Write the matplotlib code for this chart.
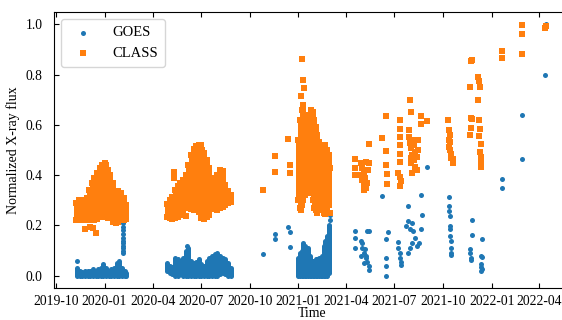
import matplotlib
matplotlib.use('Agg')
import matplotlib.pyplot as plt
import matplotlib.dates as mdates
import pandas as pd

plt.rcParams['font.family'] = ['Liberation Serif', 'DejaVu Serif']
plt.rcParams['font.size'] = 10

BLUE = '#1f77b4'
ORANGE = '#ff7f0e'

band1_class_dates = ['2019-11-08', '2019-11-13', '2019-11-18', '2019-11-23', '2019-11-28',
                     '2019-12-03', '2019-12-08', '2019-12-13', '2019-12-18', '2019-12-23',
                     '2019-12-28', '2020-01-02', '2020-01-07', '2020-01-12', '2020-01-17',
                     '2020-01-22', '2020-01-27', '2020-02-01', '2020-02-06', '2020-02-10']
band1_class_lo = [0.22, 0.22, 0.22, 0.22, 0.225, 0.22, 0.22, 0.22, 0.225, 0.235,
                  0.24, 0.235, 0.23, 0.23, 0.215, 0.21, 0.215, 0.22, 0.22, 0.225]
band1_class_hi = [0.29, 0.30, 0.29, 0.30, 0.31, 0.34, 0.37, 0.39, 0.41, 0.43,
                  0.44, 0.445, 0.42, 0.40, 0.37, 0.335, 0.335, 0.33, 0.31, 0.28]

band1_goes_dates = ['2019-11-10', '2019-11-15', '2019-11-20', '2019-11-25', '2019-11-30',
                    '2019-12-05', '2019-12-10', '2019-12-15', '2019-12-20', '2019-12-25',
                    '2019-12-30', '2020-01-04', '2020-01-09', '2020-01-14', '2020-01-19',
                    '2020-01-24', '2020-01-29', '2020-02-03', '2020-02-08', '2020-02-10']
band1_goes_lo = [0.0] * 20
band1_goes_hi = [0.03, 0.02, 0.015, 0.02, 0.02, 0.02, 0.025, 0.02, 0.025, 0.03,
                 0.045, 0.03, 0.02, 0.025, 0.03, 0.05, 0.06, 0.03, 0.02, 0.01]

band2_dates = ['2020-04-28', '2020-05-03', '2020-05-08', '2020-05-13', '2020-05-18',
               '2020-05-23', '2020-05-28', '2020-06-02', '2020-06-07', '2020-06-12',
               '2020-06-17', '2020-06-22', '2020-06-27', '2020-07-02', '2020-07-07',
               '2020-07-12', '2020-07-17', '2020-07-22', '2020-07-27', '2020-08-01',
               '2020-08-06', '2020-08-11', '2020-08-16', '2020-08-21', '2020-08-26']
band2_class_lo = [0.235, 0.23, 0.225, 0.23, 0.235, 0.24, 0.25, 0.27, 0.27, 0.265,
                  0.26, 0.265, 0.255, 0.23, 0.225, 0.235, 0.24, 0.27, 0.265, 0.26,
                  0.27, 0.275, 0.28, 0.29, 0.295]
band2_class_hi = [0.285, 0.30, 0.315, 0.34, 0.355, 0.37, 0.38, 0.40, 0.44, 0.48,
                  0.505, 0.515, 0.52, 0.52, 0.49, 0.46, 0.43, 0.39, 0.375, 0.40,
                  0.42, 0.415, 0.36, 0.335, 0.32]
band2_goes_lo = [0.02, 0.01, 0.005, 0.0, 0.0, 0.005, 0.0, 0.0, 0.0, 0.0,
                 0.0, 0.0, 0.0, 0.0, 0.0, 0.0, 0.0, 0.0, 0.0, 0.0,
                 0.005, 0.01, 0.005, 0.0, 0.0]
band2_goes_hi = [0.05, 0.04, 0.035, 0.07, 0.065, 0.06, 0.07, 0.10, 0.11, 0.06,
                 0.05, 0.055, 0.065, 0.045, 0.04, 0.06, 0.07, 0.08, 0.085, 0.09,
                 0.08, 0.07, 0.065, 0.05, 0.03]

band3_dates = ['2021-01-01', '2021-01-04', '2021-01-07', '2021-01-10', '2021-01-13',
               '2021-01-16', '2021-01-19', '2021-01-22', '2021-01-25', '2021-01-28',
               '2021-01-31', '2021-02-03', '2021-02-06', '2021-02-09', '2021-02-12',
               '2021-02-15', '2021-02-18', '2021-02-21', '2021-02-24', '2021-02-27']
band3_class_lo = [0.30, 0.27, 0.28, 0.30, 0.32, 0.34, 0.36, 0.36, 0.33, 0.30,
                  0.27, 0.26, 0.25, 0.27, 0.28, 0.26, 0.25, 0.245, 0.26, 0.28]
band3_class_hi = [0.54, 0.62, 0.66, 0.68, 0.64, 0.60, 0.56, 0.64, 0.66, 0.65,
                  0.62, 0.59, 0.56, 0.53, 0.50, 0.49, 0.51, 0.52, 0.50, 0.48]
band3_goes_lo = [0.0] * 19 + [0.01]
band3_goes_hi = [0.07, 0.09, 0.10, 0.13, 0.12, 0.10, 0.11, 0.08, 0.06, 0.06,
                 0.06, 0.065, 0.065, 0.07, 0.07, 0.08, 0.12, 0.14, 0.16, 0.20]

# ---------------- individual points ----------------
goes_dates = ['2019-11-10',
              '2020-02-05', '2020-02-05', '2020-02-05', '2020-02-05', '2020-02-05',
              '2020-02-05', '2020-02-05', '2020-02-05', '2020-02-05', '2020-02-05',
              '2020-02-05', '2020-02-05', '2020-02-05',
              '2020-06-05',
              '2020-10-26', '2020-11-18', '2020-11-18', '2020-12-13', '2020-12-17', '2020-12-17',
              '2021-03-01', '2021-03-01',
              '2021-04-18', '2021-04-18', '2021-04-18', '2021-04-29', '2021-04-29',
              '2021-05-02', '2021-05-02', '2021-05-04', '2021-05-04', '2021-05-06',
              '2021-05-08', '2021-05-08', '2021-05-11', '2021-05-11', '2021-05-14',
              '2021-05-14', '2021-05-15',
              '2021-06-07', '2021-06-15', '2021-06-15', '2021-06-15', '2021-06-15', '2021-06-20',
              '2021-07-09', '2021-07-09', '2021-07-11', '2021-07-11', '2021-07-13', '2021-07-13',
              '2021-07-24', '2021-07-26', '2021-07-27', '2021-07-27', '2021-07-30', '2021-07-30',
              '2021-08-03', '2021-08-03', '2021-08-06', '2021-08-09', '2021-08-13', '2021-08-17',
              '2021-08-20', '2021-08-20', '2021-08-22', '2021-08-31',
              '2021-10-13', '2021-10-13', '2021-10-13', '2021-10-14', '2021-10-14',
              '2021-10-15', '2021-10-15', '2021-10-16', '2021-10-16', '2021-10-17', '2021-10-17',
              '2021-11-21', '2021-11-21', '2021-11-23', '2021-11-23', '2021-11-25', '2021-11-25',
              '2021-12-11', '2021-12-11', '2021-12-12', '2021-12-12', '2021-12-13', '2021-12-13',
              '2021-12-13',
              '2022-01-21', '2022-01-21', '2022-02-27', '2022-02-27', '2022-04-11', '2022-04-13']
goes_values = [0.06,
               0.24, 0.225, 0.21, 0.195, 0.18, 0.165, 0.15, 0.14, 0.13, 0.12, 0.11, 0.10, 0.09,
               0.12,
               0.085, 0.165, 0.145, 0.195, 0.172, 0.115,
               0.243, 0.22,
               0.177, 0.151, 0.112, 0.138, 0.08,
               0.13, 0.112, 0.092, 0.05, 0.105,
               0.072, 0.08, 0.053, 0.177, 0.039,
               0.177, 0.023,
               0.318, 0.147, 0.072, 0.039, 0.0, 0.175,
               0.133, 0.11, 0.09, 0.07, 0.053, 0.041,
               0.197, 0.279, 0.217, 0.092, 0.184, 0.112,
               0.21, 0.131, 0.177, 0.151, 0.118, 0.131,
               0.184, 0.322, 0.243, 0.434,
               0.315, 0.276, 0.256, 0.236, 0.197,
               0.184, 0.158, 0.138, 0.112, 0.092, 0.082,
               0.105, 0.092, 0.069, 0.062, 0.223, 0.164,
               0.077, 0.046, 0.033, 0.020, 0.145, 0.074,
               0.026,
               0.384, 0.348, 0.465, 0.641, 0.80, 1.0]

class_dates = ['2019-11-25', '2019-12-05', '2019-12-10', '2019-12-15', '2020-01-01', '2020-01-04',
               '2020-05-11', '2020-05-11', '2020-06-02', '2020-06-30', '2020-07-03',
               '2020-10-26', '2020-11-18', '2020-11-18', '2020-12-13', '2020-12-16', '2020-12-16',
               '2021-01-05', '2021-01-06', '2021-01-08', '2021-01-09', '2021-01-11',
               '2021-03-01', '2021-03-01',
               '2021-04-18', '2021-04-18', '2021-04-18', '2021-04-29', '2021-04-29',
               '2021-05-01', '2021-05-01', '2021-05-04', '2021-05-04', '2021-05-04',
               '2021-05-06', '2021-05-08', '2021-05-08', '2021-05-10', '2021-05-12',
               '2021-05-14', '2021-05-14',
               '2021-06-07', '2021-06-15', '2021-06-15', '2021-06-15', '2021-06-17', '2021-06-17',
               '2021-07-08', '2021-07-12', '2021-07-12', '2021-07-12', '2021-07-12', '2021-07-12',
               '2021-07-12', '2021-07-12', '2021-07-12', '2021-07-14',
               '2021-07-28', '2021-07-28', '2021-07-30', '2021-07-30',
               '2021-08-01', '2021-08-01', '2021-08-01', '2021-08-01',
               '2021-08-04', '2021-08-04', '2021-08-04', '2021-08-07', '2021-08-07',
               '2021-08-10', '2021-08-10', '2021-08-12', '2021-08-12', '2021-08-14', '2021-08-15',
               '2021-08-20', '2021-08-20', '2021-08-31',
               '2021-10-10', '2021-10-13', '2021-10-13', '2021-10-13', '2021-10-14', '2021-10-14',
               '2021-10-14', '2021-10-16', '2021-10-16', '2021-10-19', '2021-10-19',
               '2021-11-21', '2021-11-21', '2021-11-23', '2021-11-23', '2021-11-23',
               '2021-11-25', '2021-11-25',
               '2021-12-06', '2021-12-06', '2021-12-08', '2021-12-08', '2021-12-08',
               '2021-12-10', '2021-12-10', '2021-12-10', '2021-12-12', '2021-12-12',
               '2021-12-12', '2021-12-12',
               '2022-01-21', '2022-01-21', '2022-02-27', '2022-02-27', '2022-02-27',
               '2022-04-11', '2022-04-13']
class_values = [0.187, 0.195, 0.19, 0.168, 0.447, 0.44,
                0.414, 0.388, 0.236, 0.52, 0.50,
                0.342, 0.476, 0.414, 0.543, 0.44, 0.407,
                0.263, 0.716, 0.861, 0.78, 0.746,
                0.25, 0.43,
                0.463, 0.43, 0.40, 0.447, 0.40,
                0.43, 0.38, 0.41, 0.36, 0.34,
                0.39, 0.453, 0.348, 0.37, 0.42,
                0.523, 0.45,
                0.549, 0.635, 0.495, 0.44, 0.405, 0.364,
                0.408, 0.618, 0.585, 0.552, 0.519, 0.486,
                0.453, 0.394, 0.355, 0.375,
                0.578, 0.552, 0.697, 0.526,
                0.65, 0.506, 0.467, 0.447,
                0.539, 0.48, 0.408, 0.519, 0.46,
                0.493, 0.434, 0.473, 0.42, 0.50, 0.539,
                0.637, 0.605, 0.614,
                0.62, 0.578, 0.539, 0.512, 0.56, 0.53,
                0.50, 0.486, 0.47, 0.463, 0.45,
                0.752, 0.558, 0.854, 0.628, 0.589,
                0.856, 0.624,
                0.791, 0.700, 0.775, 0.621, 0.555,
                0.752, 0.585, 0.493, 0.522, 0.473,
                0.453, 0.434,
                0.894, 0.867, 0.999, 0.962, 0.881,
                0.985, 0.992]

x_limits = ['2019-09-27', '2022-05-28']

# ---------------- figure ----------------
fig = plt.figure(figsize=(5.62, 3.2), dpi=100)
ax = fig.add_axes([0.0955, 0.099, 0.918, 0.8645])

MS = 13
LW = 3.6


def band(dates, lo, hi, color, marker):
    d = pd.to_datetime(dates)
    ax.vlines(d, lo, hi, colors=color, linewidth=LW)
    ax.scatter(d, lo, s=MS, c=color, marker=marker, linewidths=0)
    ax.scatter(d, hi, s=MS, c=color, marker=marker, linewidths=0)


# GOES first
band(band1_goes_dates, band1_goes_lo, band1_goes_hi, BLUE, 'o')
band(band2_dates, band2_goes_lo, band2_goes_hi, BLUE, 'o')
band(band3_dates, band3_goes_lo, band3_goes_hi, BLUE, 'o')
ax.scatter(pd.to_datetime(goes_dates), goes_values, s=MS, c=BLUE, marker='o',
           linewidths=0, label='GOES')

# CLASS on top
band(band1_class_dates, band1_class_lo, band1_class_hi, ORANGE, 's')
band(band2_dates, band2_class_lo, band2_class_hi, ORANGE, 's')
band(band3_dates, band3_class_lo, band3_class_hi, ORANGE, 's')
ax.scatter(pd.to_datetime(class_dates), class_values, s=MS, c=ORANGE, marker='s',
           linewidths=0, label='CLASS')

ax.set_xlim(pd.to_datetime(x_limits[0]), pd.to_datetime(x_limits[1]))
ax.set_ylim(-0.05, 1.05)
ax.set_yticks([0.0, 0.2, 0.4, 0.6, 0.8, 1.0])
ax.xaxis.set_major_locator(mdates.MonthLocator(bymonth=[1, 4, 7, 10]))
ax.xaxis.set_major_formatter(mdates.DateFormatter('%Y-%m'))
ax.tick_params(direction='in', top=True, right=True, labelsize=9.8)
ax.tick_params(axis='y', pad=8)
ax.tick_params(axis='x', pad=5)

ax.set_xlabel('Time', fontsize=10, labelpad=-1)
ax.set_ylabel('Normalized X-ray flux', fontsize=10)
ax.legend(loc='upper left', fontsize=10.5, handletextpad=1.0, borderpad=0.5)

fig.savefig('out.png', dpi=100)
